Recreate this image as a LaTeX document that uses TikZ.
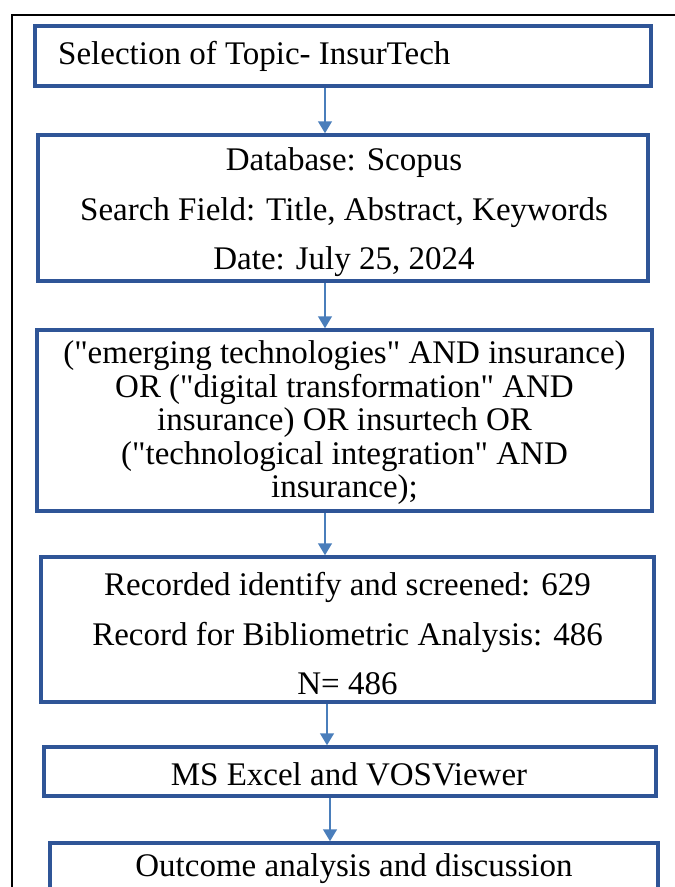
\documentclass[tikz,border=0pt]{standalone}
\usepackage{fontspec}
\setmainfont{Liberation Serif}[Ligatures=TeXOff]
\usetikzlibrary{arrows.meta}
\definecolor{boxblue}{HTML}{2F5597}
\definecolor{arrblue}{HTML}{4A7EBB}
\begin{document}
\begin{tikzpicture}[x=1pt,y=-1pt,
  box/.style={draw=boxblue, line width=3.5pt, rectangle, inner sep=0pt},
  txt/.style={font=\fontsize{33}{33.5}\selectfont, align=center, inner sep=0pt},
  wide/.style={font=\fontsize{33}{49.5}\selectfont, align=center, inner sep=0pt},
  arr/.style={draw=arrblue, line width=1.5pt, -{Triangle[length=12pt,width=14pt]}}]
\useasboundingbox (0,0) rectangle (675,887);
% outer frame
\draw[line width=1.5pt] (12,920) -- (12,15) -- (700,15);
% boxes
\node[box, minimum width=616pt, minimum height=60pt] (b1) at (343,56) {};
\node[box, minimum width=610pt, minimum height=146pt] (b2) at (343,208) {};
\node[box, minimum width=615pt, minimum height=181pt] (b3) at (344.5,420.5) {};
\node[box, minimum width=613pt, minimum height=145pt] (b4) at (347.5,629.5) {};
\node[box, minimum width=612pt, minimum height=49pt] (b5) at (350,771.5) {};
\node[box, minimum width=608pt, minimum height=100pt] (b6) at (354,893) {};
% texts
\node[txt, anchor=west] (t1) at (58,56) {Selection of Topic- InsurTech};
\node[wide] (t2) at (344,212.5) {Database: Scopus\\Search Field: Title, Abstract, Keywords\\Date: July 25, 2024};
\node[txt] (t3) at (344.5,423) {("emerging technologies" AND insurance)\\OR ("digital transformation" AND\\insurance) OR insurtech OR\\("technological integration" AND\\insurance);};
\node[wide] (t4) at (347.5,634) {Recorded identify and screened: 629\\Record for Bibliometric Analysis: 486\\N= 486};
\node[txt] (t5) at (349,774) {MS Excel and VOSViewer};
\node[txt] (t6) at (354,869) {Outcome analysis and discussion};
% connectors
\coordinate (c1) at (325,0);
\coordinate (c4) at (327,0);
\coordinate (c5) at (330,0);
\draw[arr] (b1.south -| c1) -- (b2.north -| c1);
\draw[arr] (b2.south -| c1) -- (b3.north -| c1);
\draw[arr] (b3.south -| c1) -- (b4.north -| c1);
\draw[arr] (b4.south -| c4) -- (b5.north -| c4);
\draw[arr] (b5.south -| c5) -- (b6.north -| c5);
\end{tikzpicture}
\end{document}
